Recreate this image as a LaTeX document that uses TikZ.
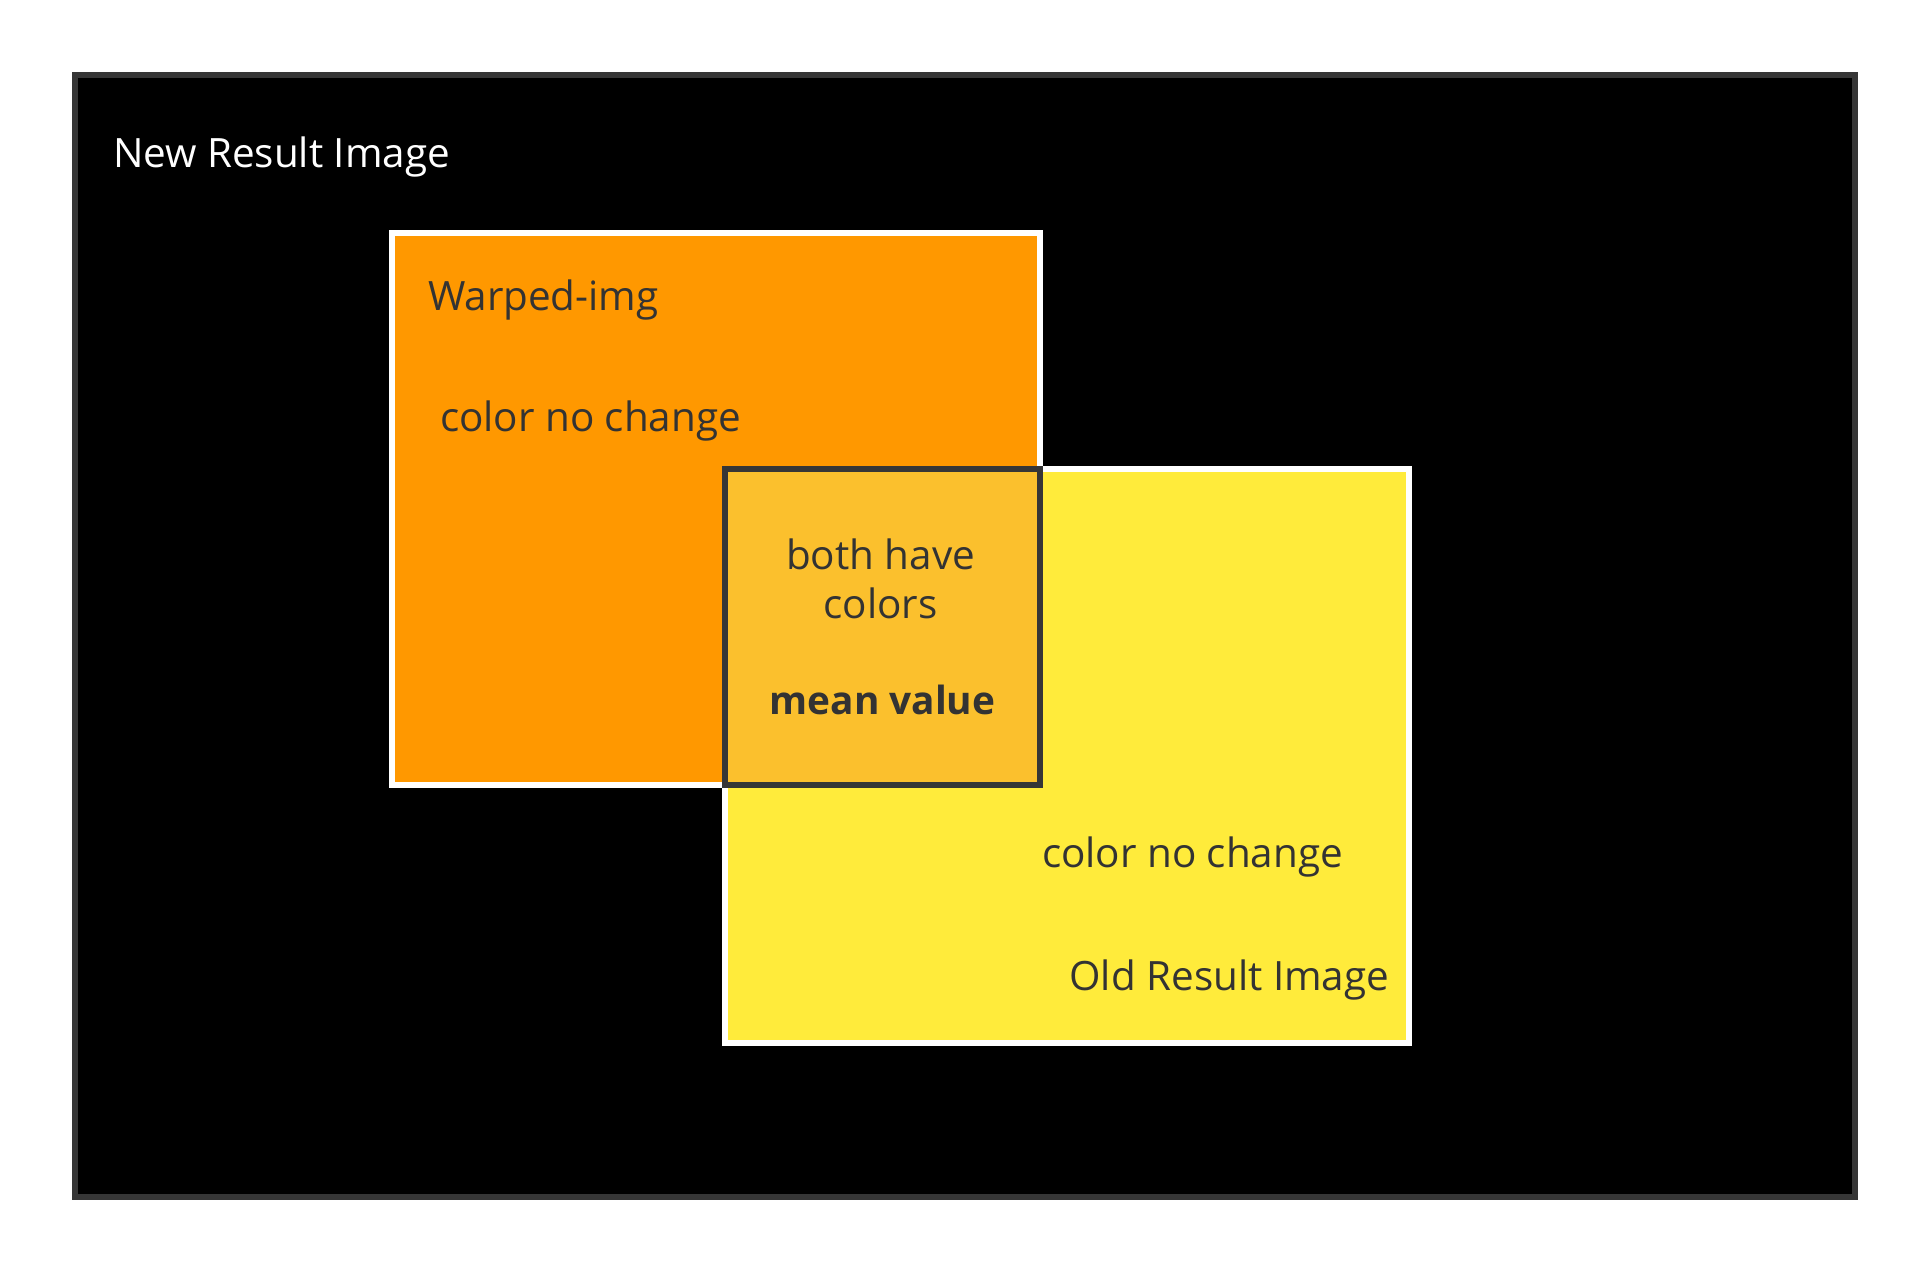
\documentclass[tikz,border=0pt]{standalone}
\usepackage{fontspec}
\setmainfont{Open Sans}
\usetikzlibrary{calc}

\definecolor{framegray}{HTML}{363636}
\definecolor{textgray}{HTML}{333333}
\definecolor{warpedorange}{HTML}{FF9800}
\definecolor{oldyellow}{HTML}{FFEB3B}
\definecolor{meanyellow}{HTML}{FBC02D}

\tikzset{
    txt/.style={inner sep=0pt, text=textgray, font=\fontsize{20.2}{24.25}\selectfont},
}

\begin{document}
\begin{tikzpicture}[x=0.5pt, y=-0.5pt, line width=3pt]
    \useasboundingbox (0,0) rectangle (1932,1272);

    \coordinate (frame) at (75,75);
    \coordinate (warped) at (392,233);
    \coordinate (old) at (725,469.5);

    \draw[draw=framegray, fill=black] (frame) rectangle ($(frame) + (1780,1122)$);
    \draw[draw=white, fill=warpedorange] (warped) rectangle ($(warped) + (648,552)$);
    \draw[draw=white, fill=oldyellow] (old) rectangle ($(old) + (684,573.5)$);
    \draw[draw=framegray, fill=meanyellow] (old) rectangle ($(old) + (315,315.5)$);

    \node[txt, text=white, anchor=base west] (newres) at ($(frame) + (35,93)$) {New Result Image};

    \node[txt, anchor=base west] (warpedname) at ($(warped) + (33,77.6)$) {Warped-img};
    \node[txt, anchor=base west] (warpedkeep) at ($(warped) + (45,198.6)$) {color no change};

    \node[txt, anchor=base, align=center] (both) at ($(old) + (155.5,148.5)$) {both have\\colors};
    \node[txt, anchor=base, font=\fontsize{19.4}{24.25}\selectfont\bfseries] (mean) at ($(old) + (157.5,245.1)$) {mean value};

    \node[txt, anchor=base west] (oldkeep) at ($(old) + (314,397.5)$) {color no change};
    \node[txt, anchor=base west] (oldname) at ($(old) + (341.5,520.5)$) {Old Result Image};
\end{tikzpicture}
\end{document}
